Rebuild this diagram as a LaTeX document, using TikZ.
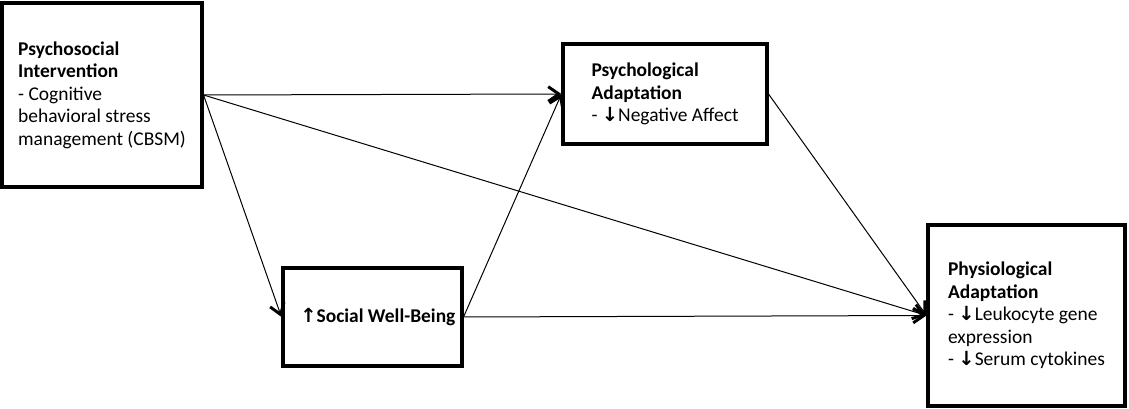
\documentclass[tikz,border=0pt]{standalone}
\usepackage{fontspec}
\setmainfont{Carlito}
\newfontfamily\arrowfont{DejaVu Sans}
\usepackage{tikz}
\usetikzlibrary{arrows.meta}

\newcommand{\dnarr}{{\arrowfont\bfseries ↓}}
\newcommand{\uparr}{{\arrowfont\bfseries ↑}}

\begin{document}
\begin{tikzpicture}[x=0.75pt, y=-0.75pt,
    every node/.style={font=\fontsize{14.6}{16.9}\selectfont},
    stagebox/.style={draw, line width=2.3pt, align=left, inner sep=0pt},
    link/.style={line width=0.75pt, -{Straight Barb[length=8pt, width=11pt, line width=2.2pt]}}]
    \useasboundingbox (0,0) rectangle (1129,409);
    % intervention
    \node[stagebox, minimum width=150pt, minimum height=138pt] (interv) at (102,95)
        {\textbf{Psychosocial}\\ \textbf{Intervention}\\ - Cognitive\\ behavioral stress\\ management (CBSM)};
    % psychological adaptation
    \node[stagebox, minimum width=153pt, minimum height=75pt] (psych) at (665,94)
        {\textbf{Psychological}\\ \textbf{Adaptation}\\ - \dnarr Negative Affect};
    % social well-being
    \node[stagebox, minimum width=134.25pt, minimum height=73.5pt] (social) at (372.5,317)
        {\hspace{8pt}\textbf{\uparr Social Well-Being}};
    % physiological adaptation
    \node[stagebox, minimum width=147.75pt, minimum height=135.75pt] (physio) at (1026.5,315.5)
        {\textbf{Physiological}\\ \textbf{Adaptation}\\ - \dnarr Leukocyte gene\\ expression\\ - \dnarr Serum cytokines};
    % paths
    \draw[link] (interv.east) -- (psych.west);
    \draw[link] (interv.east) -- (physio.west);
    \draw[link] (interv.east) -- (social.west);
    \draw[link] (social.east) -- (psych.west);
    \draw[link] (social.east) -- (physio.west);
    \draw[link] (psych.east) -- (physio.west);
\end{tikzpicture}
\end{document}
